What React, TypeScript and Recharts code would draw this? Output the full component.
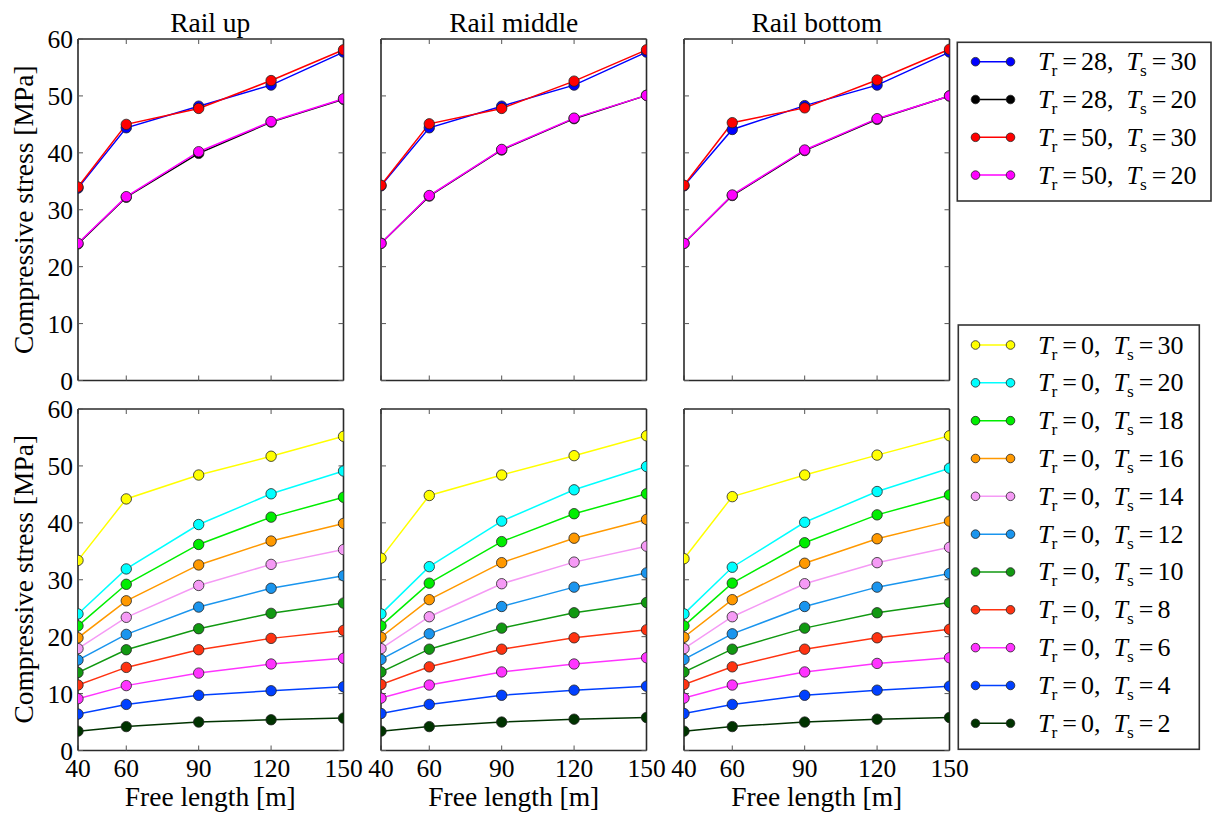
import React from "react";
import { LineChart, Line, XAxis, YAxis } from "recharts";

const FONT = "Liberation Serif, Times New Roman, Times, serif";

// x categories (free length, m) and y ticks
const lengths = [40, 60, 90, 120, 150];
const stressTicks = [0, 10, 20, 30, 40, 50, 60];
const panelTitles = ["Rail up", "Rail middle", "Rail bottom"];

// ---- Top row series: (Tr, Ts) ----
const topTr = [28, 28, 50, 50];
const topTs = [30, 20, 30, 20];
const topColors = ["#0000ff", "#000000", "#ff0000", "#ff00ff"];

// Rail up
const upTr28Ts30 = [33.8, 44.4, 48.2, 51.9, 57.7];
const upTr28Ts20 = [24.0, 32.2, 39.9, 45.4, 49.4];
const upTr50Ts30 = [34.0, 45.0, 47.8, 52.7, 58.1];
const upTr50Ts20 = [24.1, 32.3, 40.2, 45.5, 49.5];
// Rail middle
const midTr28Ts30 = [34.2, 44.4, 48.2, 51.9, 57.7];
const midTr28Ts20 = [24.1, 32.4, 40.5, 46.0, 50.1];
const midTr50Ts30 = [34.3, 45.1, 47.8, 52.6, 58.1];
const midTr50Ts20 = [24.1, 32.5, 40.6, 46.1, 50.1];
// Rail bottom
const botTr28Ts30 = [34.2, 44.1, 48.3, 51.9, 57.7];
const botTr28Ts20 = [24.1, 32.5, 40.4, 45.9, 50.0];
const botTr50Ts30 = [34.3, 45.3, 47.9, 52.8, 58.2];
const botTr50Ts20 = [24.1, 32.6, 40.5, 46.0, 50.0];

// ---- Bottom row series: Tr = 0, Ts = ... ----
const lowTs = [30, 20, 18, 16, 14, 12, 10, 8, 6, 4, 2];
const lowColors = [
  "#ffff00", "#00ffff", "#00ee00", "#ff9900", "#f59af5", "#1a95ee",
  "#119911", "#ff3311", "#ff33ff", "#0040ff", "#003300",
];

// Rail up, Tr=0
const upTs30 = [33.4, 44.2, 48.4, 51.7, 55.2];
const upTs20 = [24.0, 31.9, 39.7, 45.1, 49.1];
const upTs18 = [21.9, 29.2, 36.2, 41.0, 44.5];
const upTs16 = [19.8, 26.3, 32.6, 36.8, 39.9];
const upTs14 = [17.9, 23.4, 29.0, 32.7, 35.3];
const upTs12 = [15.9, 20.4, 25.2, 28.5, 30.7];
const upTs10 = [13.7, 17.7, 21.4, 24.1, 25.9];
const upTs8 = [11.5, 14.6, 17.7, 19.7, 21.1];
const upTs6 = [9.1, 11.4, 13.6, 15.2, 16.2];
const upTs4 = [6.4, 8.1, 9.7, 10.5, 11.2];
const upTs2 = [3.4, 4.2, 5.0, 5.4, 5.7];
// Rail middle, Tr=0
const midTs30 = [33.8, 44.8, 48.4, 51.8, 55.3];
const midTs20 = [24.0, 32.3, 40.3, 45.8, 49.9];
const midTs18 = [21.9, 29.4, 36.7, 41.6, 45.1];
const midTs16 = [19.9, 26.5, 33.0, 37.3, 40.6];
const midTs14 = [17.9, 23.5, 29.3, 33.1, 35.9];
const midTs12 = [16.0, 20.5, 25.3, 28.7, 31.2];
const midTs10 = [13.8, 17.8, 21.5, 24.2, 26.0];
const midTs8 = [11.6, 14.7, 17.8, 19.8, 21.2];
const midTs6 = [9.2, 11.5, 13.8, 15.2, 16.3];
const midTs4 = [6.5, 8.1, 9.7, 10.6, 11.3];
const midTs2 = [3.4, 4.2, 5.0, 5.5, 5.8];
// Rail bottom, Tr=0
const botTs30 = [33.7, 44.6, 48.4, 51.9, 55.3];
const botTs20 = [24.0, 32.2, 40.1, 45.5, 49.6];
const botTs18 = [21.9, 29.4, 36.5, 41.4, 44.9];
const botTs16 = [19.9, 26.5, 32.9, 37.2, 40.3];
const botTs14 = [17.9, 23.5, 29.3, 33.0, 35.7];
const botTs12 = [16.0, 20.5, 25.3, 28.7, 31.1];
const botTs10 = [13.8, 17.8, 21.5, 24.2, 26.0];
const botTs8 = [11.6, 14.7, 17.8, 19.8, 21.3];
const botTs6 = [9.2, 11.5, 13.8, 15.3, 16.3];
const botTs4 = [6.5, 8.1, 9.7, 10.6, 11.3];
const botTs2 = [3.4, 4.2, 5.0, 5.5, 5.8];

const topPanels = [
  [upTr28Ts30, upTr28Ts20, upTr50Ts30, upTr50Ts20],
  [midTr28Ts30, midTr28Ts20, midTr50Ts30, midTr50Ts20],
  [botTr28Ts30, botTr28Ts20, botTr50Ts30, botTr50Ts20],
];
const lowPanels = [
  [upTs30, upTs20, upTs18, upTs16, upTs14, upTs12, upTs10, upTs8, upTs6, upTs4, upTs2],
  [midTs30, midTs20, midTs18, midTs16, midTs14, midTs12, midTs10, midTs8, midTs6, midTs4, midTs2],
  [botTs30, botTs20, botTs18, botTs16, botTs14, botTs12, botTs10, botTs8, botTs6, botTs4, botTs2],
];

function buildRows(series: number[][]) {
  return lengths.map((x, i) => {
    const r: Record<string, number> = { x };
    series.forEach((s, k) => {
      r["s" + k] = s[i];
    });
    return r;
  });
}

// layout
const COL_X = [77.5, 381, 684];
const COL_W = 265.5;
const ROW_Y = [39, 408.5];
const ROW_H = 341.5;
const PAD_L = 60;
const PAD_T = 40;
const PAD_R = 30;
const PAD_B = 70;

const emptyTick = () => <g />;
const frameStroke = { stroke: "#2a2a2a", strokeWidth: 1.6 };
const tickLineStyle = { stroke: "#555", strokeWidth: 1 };
const tickText = { fill: "#000", fontSize: 25.5, fontFamily: FONT, style: { fontFamily: FONT } };

function Panel(props: {
  col: number;
  row: number;
  series: number[][];
  colors: string[];
  showY: boolean;
  showX: boolean;
}) {
  const { col, row, series, colors, showY, showX } = props;
  const rows = buildRows(series);
  const W = COL_W + PAD_L + PAD_R;
  const H = ROW_H + PAD_T + PAD_B;
  return (
    <div
      style={{
        position: "absolute",
        left: COL_X[col] - PAD_L,
        top: ROW_Y[row] - PAD_T,
        width: W,
        height: H,
        fontFamily: FONT,
      }}
    >
      <LineChart
        width={W}
        height={H}
        data={rows}
        margin={{ top: PAD_T - 1, right: PAD_R - 1, bottom: 0, left: 0 }}
        style={{ fontFamily: FONT }}
      >
        <XAxis
          xAxisId="b"
          dataKey="x"
          type="number"
          domain={[40, 150]}
          ticks={lengths}
          interval={0}
          allowDataOverflow
          orientation="bottom"
          height={PAD_B}
          tickSize={-5}
          tickMargin={13}
          axisLine={frameStroke}
          tickLine={tickLineStyle}
          tick={showX ? tickText : emptyTick}
        />
        <XAxis
          xAxisId="t"
          dataKey="x"
          type="number"
          domain={[40, 150]}
          ticks={lengths}
          interval={0}
          allowDataOverflow
          orientation="top"
          height={1}
          tickSize={-5}
          axisLine={frameStroke}
          tickLine={tickLineStyle}
          tick={emptyTick}
        />
        <YAxis
          yAxisId="l"
          type="number"
          domain={[0, 60]}
          ticks={stressTicks}
          interval={0}
          allowDataOverflow
          orientation="left"
          width={PAD_L}
          tickSize={-5}
          tickMargin={10}
          axisLine={frameStroke}
          tickLine={tickLineStyle}
          tick={showY ? tickText : emptyTick}
        />
        <YAxis
          yAxisId="r"
          type="number"
          domain={[0, 60]}
          ticks={stressTicks}
          interval={0}
          allowDataOverflow
          orientation="right"
          width={1}
          tickSize={-5}
          axisLine={frameStroke}
          tickLine={tickLineStyle}
          tick={emptyTick}
        />
        {series.map((_, k) => (
          <Line
            key={k}
            xAxisId="b"
            yAxisId="l"
            dataKey={"s" + k}
            type="linear"
            stroke={colors[k]}
            strokeWidth={1.5}
            dot={{ r: 5.2, fill: colors[k], stroke: "#222", strokeWidth: 0.8, fillOpacity: 1 }}
            activeDot={false}
            isAnimationActive={false}
          />
        ))}
      </LineChart>
    </div>
  );
}

function LegendEntry(props: { y: number; color: string; tr: number; ts: number }) {
  const { y, color, tr, ts } = props;
  return (
    <g>
      <line x1={975.5} x2={1010.5} y1={y} y2={y} stroke={color} strokeWidth={1.5} />
      <circle cx={975.5} cy={y} r={4.3} fill={color} stroke="#222" strokeWidth={0.8} />
      <circle cx={1010.5} cy={y} r={4.3} fill={color} stroke="#222" strokeWidth={0.8} />
      <text x={1038} y={y + 8.5} fontSize={26} style={{ fontFamily: FONT }} fill="#000">
        <tspan fontStyle="italic">T</tspan>
        <tspan fontSize={17.5} dy={6} dx={-1}>r</tspan>
        <tspan dy={-6} dx={5}>=</tspan>
        <tspan dx={4}>{tr + ","}</tspan>
        <tspan dx={13} fontStyle="italic">T</tspan>
        <tspan fontSize={17.5} dy={6} dx={-1}>s</tspan>
        <tspan dy={-6} dx={5}>=</tspan>
        <tspan dx={4}>{String(ts)}</tspan>
      </text>
    </g>
  );
}

export default function App() {
  const panelCenters = COL_X.map((x) => x + COL_W / 2);
  const rowCenters = ROW_Y.map((y) => y + ROW_H / 2);
  const txt = { fontFamily: FONT };
  return (
    <div
      style={{
        position: "absolute",
        left: 0,
        top: 0,
        width: 1214,
        height: 816,
        background: "#fff",
        overflow: "hidden",
        fontFamily: FONT,
      }}
    >
      {topPanels.map((s, c) => (
        <Panel key={"t" + c} col={c} row={0} series={s} colors={topColors} showY={c === 0} showX={false} />
      ))}
      {lowPanels.map((s, c) => (
        <Panel key={"b" + c} col={c} row={1} series={s} colors={lowColors} showY={c === 0} showX={true} />
      ))}
      <svg
        width={1214}
        height={816}
        style={{ position: "absolute", left: 0, top: 0, pointerEvents: "none" }}
      >
        {panelTitles.map((t, c) => (
          <text key={t} x={panelCenters[c]} y={32} textAnchor="middle" fontSize={27.5} style={txt} fill="#000">
            {t}
          </text>
        ))}
        {panelCenters.map((cx, c) => (
          <text key={"xl" + c} x={cx} y={806} textAnchor="middle" fontSize={27.5} style={txt} fill="#000">
            Free length [m]
          </text>
        ))}
        {rowCenters.map((cy, r) => (
          <text
            key={"yl" + r}
            transform={`translate(33, ${cy}) rotate(-90)`}
            textAnchor="middle"
            fontSize={27.5}
            style={txt}
            fill="#000"
          >
            Compressive stress [MPa]
          </text>
        ))}
        <rect x={957.3} y={42.3} width={253.7} height={158.7} fill="#fff" stroke="#333" strokeWidth={1.6} />
        {topTr.map((tr, k) => (
          <LegendEntry key={"lt" + k} y={61.7 + k * 37.8} color={topColors[k]} tr={tr} ts={topTs[k]} />
        ))}
        <rect x={958.3} y={325} width={241} height={424.3} fill="#fff" stroke="#333" strokeWidth={1.6} />
        {lowTs.map((ts, k) => (
          <LegendEntry key={"lb" + k} y={345 + k * 37.83} color={lowColors[k]} tr={0} ts={ts} />
        ))}
      </svg>
    </div>
  );
}
